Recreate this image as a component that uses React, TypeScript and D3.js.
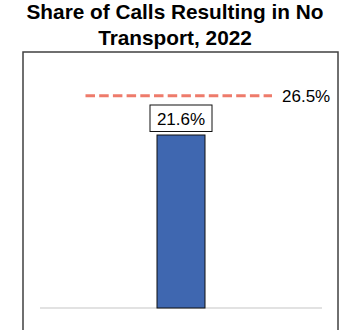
import React from "react";
import * as d3 from "d3";

const categories: string[] = ["2022"];
const shareValues: number[] = [21.6];
const benchmarkValues: number[] = [26.5];
const titleLines: string[] = ["Share of Calls Resulting in No", "Transport, 2022"];

const W = 346;
const H = 330;
const FONT = "Arial, 'Liberation Sans', sans-serif";

export default function App() {
  const x = d3.scaleBand<string>().domain(categories).range([40, 322]).paddingInner(0).paddingOuter(2.4375);
  const y = d3.scaleLinear().domain([0, 30]).range([308, 308 - 30 * (173 / 21.6)]);
  const fmt = (v: number) => `${v.toFixed(1)}%`;
  const bw = x.bandwidth();

  return (
    <svg
      width={W}
      height={H}
      style={{ position: "absolute", left: 0, top: 0, background: "#fff" }}
      fontFamily={FONT}
    >
      {titleLines.map((t, i) => (
        <text key={i} x={175} y={19 + i * 26} textAnchor="middle" fontSize={20.8} fontWeight="bold" fill="#000">
          {t}
        </text>
      ))}
      <rect x={23} y={52} width={315} height={300} fill="none" stroke="#404040" strokeWidth={1.5} />
      <line x1={40} x2={322} y1={y(0)} y2={y(0)} stroke="#d9d9d9" strokeWidth={1.5} />
      {categories.map((c, i) => {
        const bx = x(c) as number;
        const v = shareValues[i];
        return (
          <g key={c}>
            <rect x={bx} y={y(v)} width={bw} height={y(0) - y(v)} fill="#3F67B0" stroke="#111" strokeWidth={1} />
            <rect x={bx + bw / 2 - 31} y={y(v) - 30} width={62} height={26.5} fill="#fff" stroke="#111" strokeWidth={1} />
            <text x={bx + bw / 2} y={y(v) - 10} textAnchor="middle" fontSize={17} fill="#000">
              {fmt(v)}
            </text>
          </g>
        );
      })}
      {benchmarkValues.map((b, i) => (
        <g key={i}>
          <line x1={85.5} x2={272} y1={y(b)} y2={y(b)} stroke="#EE7B6B" strokeWidth={3} strokeDasharray="9.5 4.2" />
          <text x={282} y={y(b) + 6} fontSize={17} fill="#000">
            {fmt(b)}
          </text>
        </g>
      ))}
    </svg>
  );
}
